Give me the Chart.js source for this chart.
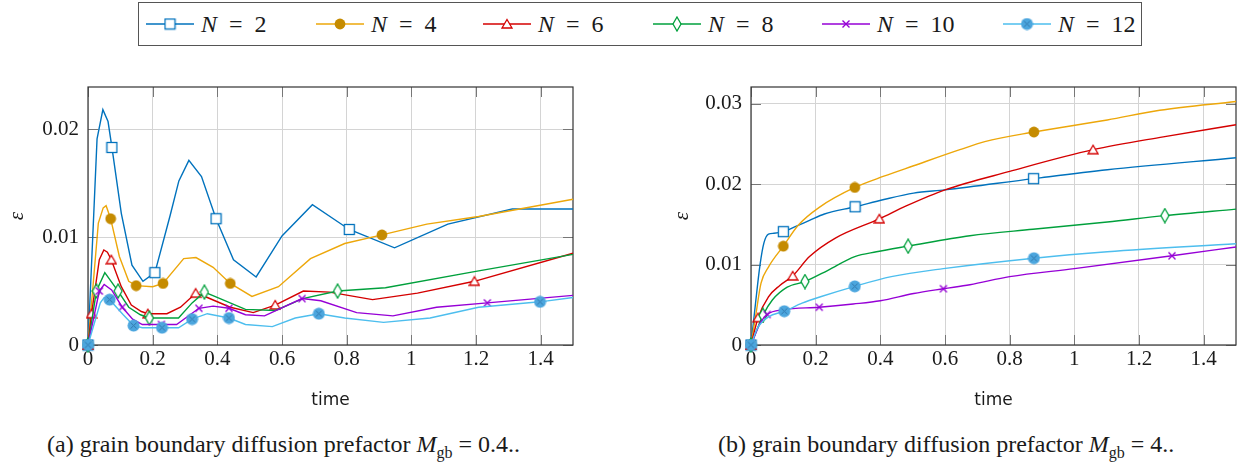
<!DOCTYPE html>
<html lang="en">
<head>
<meta charset="UTF-8">
<title>Strain over time for different N</title>
<script src="https://cdn.jsdelivr.net/npm/chart.js"></script>
<style>
  body { margin: 0; width: 1245px; height: 466px; background: #fff; position: relative; overflow: hidden;
         font-family: "Liberation Serif", serif; color: #1a1a1a; }
  #legend { position: absolute; left: 138px; top: 2px; width: 1004px; height: 44px;
            border: 1.5px solid #555; box-sizing: border-box; }
  .entry { position: absolute; top: 0; height: 100%; display: flex; align-items: center;
           font-size: 24px; white-space: nowrap; }
  .entry canvas { margin-right: 7px; }
  .box { position: absolute; top: 60px; height: 360px; }
  .caption { position: absolute; top: 431px; font-size: 24px; white-space: nowrap; }
  .caption .sub { font-size: 16px; position: relative; top: 6px; }
</style>
</head>
<body>
<div id="legend"></div>
<div class="box" style="left:0;width:620px"><canvas id="chartA"></canvas></div>
<div class="box" style="left:665px;width:580px"><canvas id="chartB"></canvas></div>
<div class="caption" style="left:47px">(a) grain boundary diffusion prefactor <i>M</i><span class="sub">gb</span> = 0.4..</div>
<div class="caption" style="left:718px">(b) grain boundary diffusion prefactor <i>M</i><span class="sub">gb</span> = 4..</div>

<script>
// number of grains per series
const seriesN = [2, 4, 6, 8, 10, 12];
const xTicks = [0, 0.2, 0.4, 0.6, 0.8, 1, 1.2, 1.4];
const yTicksA = [0, 0.01, 0.02];
const yTicksB = [0, 0.01, 0.02, 0.03];

// (a) M_gb = 0.4  -- [time, eps]
const a2 = [[0,0],[0.028,0.0191],[0.046,0.0218],[0.062,0.0207],[0.074,0.0183],[0.103,0.0122],[0.136,0.0074],[0.170,0.0059],[0.207,0.0067],[0.254,0.0120],[0.281,0.0152],[0.312,0.0171],[0.351,0.0156],[0.396,0.0117],[0.45,0.0079],[0.52,0.0063],[0.60,0.0101],[0.694,0.0130],[0.808,0.0107],[0.948,0.0090],[1.113,0.0112],[1.312,0.0126],[1.5,0.0126]];
const a4 = [[0,0],[0.032,0.0113],[0.047,0.0127],[0.056,0.0129],[0.070,0.0117],[0.097,0.0082],[0.126,0.0059],[0.149,0.0055],[0.20,0.0054],[0.232,0.0057],[0.296,0.0080],[0.334,0.0081],[0.387,0.0072],[0.44,0.0057],[0.507,0.0045],[0.589,0.0054],[0.688,0.0080],[0.794,0.0094],[0.909,0.0102],[1.048,0.0112],[1.208,0.0119],[1.5,0.0135]];
const a6 = [[0,0],[0.011,0.0029],[0.035,0.0079],[0.049,0.0088],[0.060,0.0086],[0.072,0.0079],[0.103,0.0054],[0.134,0.0037],[0.165,0.0031],[0.185,0.0029],[0.244,0.0029],[0.286,0.0035],[0.333,0.0048],[0.369,0.0044],[0.44,0.0035],[0.511,0.0030],[0.579,0.0037],[0.666,0.0050],[0.747,0.0049],[0.88,0.0042],[1.019,0.0048],[1.195,0.0059],[1.5,0.0085]];
const a8 = [[0,0],[0.026,0.0050],[0.052,0.0067],[0.093,0.0050],[0.126,0.0035],[0.162,0.0028],[0.19,0.0025],[0.28,0.0025],[0.322,0.0039],[0.36,0.0049],[0.392,0.0045],[0.487,0.0033],[0.58,0.0032],[0.664,0.0043],[0.772,0.0050],[0.92,0.0053],[1.195,0.0068],[1.5,0.0084]];
const a10 = [[0,0],[0.035,0.0050],[0.05,0.0056],[0.073,0.0051],[0.106,0.0035],[0.138,0.0024],[0.168,0.0019],[0.227,0.0019],[0.274,0.0019],[0.343,0.0034],[0.387,0.0036],[0.436,0.0034],[0.487,0.0028],[0.546,0.0027],[0.662,0.0043],[0.72,0.0041],[0.831,0.0030],[0.943,0.0027],[1.078,0.0035],[1.235,0.0039],[1.5,0.0046]];
const a12 = [[0,0],[0.038,0.0039],[0.05,0.0044],[0.067,0.0042],[0.109,0.0028],[0.141,0.0018],[0.168,0.0016],[0.229,0.0016],[0.28,0.0016],[0.322,0.0024],[0.369,0.0029],[0.436,0.0025],[0.487,0.0019],[0.57,0.0017],[0.641,0.0025],[0.714,0.0029],[0.794,0.0025],[0.914,0.0021],[1.058,0.0025],[1.208,0.0035],[1.398,0.0040],[1.5,0.0044]];
// indices that carry a marker
const a2Marks = [0, 4, 8, 13, 18];
const a4Marks = [0, 4, 7, 9, 13, 18];
const a6Marks = [0, 1, 5, 9, 12, 16, 21];
const a8Marks = [0, 1, 3, 6, 9, 14];
const a10Marks = [0, 1, 4, 7, 9, 11, 14, 19];
const a12Marks = [0, 3, 5, 7, 9, 11, 15, 20];

// (b) M_gb = 4
const b2 = [[0,0],[0.014,0.0052],[0.028,0.0100],[0.04,0.0127],[0.054,0.0138],[0.071,0.0139],[0.10,0.0141],[0.135,0.0147],[0.181,0.0155],[0.227,0.0163],[0.322,0.0172],[0.411,0.0181],[0.503,0.0189],[0.60,0.0193],[0.874,0.0207],[1.102,0.0218],[1.5,0.0233]];
const b4 = [[0,0],[0.014,0.0035],[0.031,0.0077],[0.054,0.0097],[0.10,0.0123],[0.146,0.0149],[0.21,0.0171],[0.321,0.0196],[0.411,0.0210],[0.503,0.0223],[0.646,0.0243],[0.723,0.0253],[0.875,0.0265],[1.102,0.0280],[1.264,0.0292],[1.5,0.0303]];
const b6 = [[0,0],[0.022,0.0034],[0.054,0.0060],[0.089,0.0074],[0.129,0.0086],[0.181,0.0110],[0.261,0.0133],[0.397,0.0157],[0.48,0.0173],[0.60,0.0193],[0.80,0.0216],[1.058,0.0243],[1.275,0.0259],[1.5,0.0274]];
const b8 = [[0,0],[0.037,0.0037],[0.066,0.0056],[0.112,0.0072],[0.167,0.0079],[0.238,0.0093],[0.321,0.0110],[0.388,0.0116],[0.486,0.0123],[0.677,0.0136],[0.872,0.0144],[1.102,0.0153],[1.28,0.0161],[1.5,0.0169]];
const b10 = [[0,0],[0.031,0.0029],[0.05,0.0038],[0.1,0.0044],[0.211,0.0047],[0.316,0.0051],[0.40,0.0055],[0.503,0.0064],[0.595,0.0070],[0.677,0.0075],[0.8,0.0085],[1.0,0.0095],[1.302,0.0111],[1.5,0.0122]];
const b12 = [[0,0],[0.02,0.0021],[0.054,0.0035],[0.103,0.0042],[0.158,0.0052],[0.215,0.0060],[0.321,0.0073],[0.434,0.0085],[0.595,0.0095],[0.875,0.0108],[1.102,0.0116],[1.5,0.0126]];
const b2Marks = [0, 6, 10, 14];
const b4Marks = [0, 4, 7, 12];
const b6Marks = [0, 1, 4, 7, 11];
const b8Marks = [0, 1, 4, 8, 12];
const b10Marks = [0, 2, 4, 8, 12];
const b12Marks = [0, 3, 6, 9];

const lineColors = ['#0072bd', '#eda70a', '#d40000', '#00a03c', '#9600d6', '#4dbeee'];

Chart.defaults.font.family = "'Liberation Serif', serif";

// small canvases used as point styles (pgfplots-like marks)
function mark(kind, color) {
  const c = document.createElement('canvas');
  // size first: resizing a canvas resets its context state
  if (kind === 'square' || kind === 'otimes') { c.width = c.height = 13; }
  else if (kind === 'diamond') { c.width = 10; c.height = 16; }
  else if (kind === 'x') { c.width = c.height = 10; }
  else { c.width = c.height = 12; }
  const g = c.getContext('2d');
  g.lineWidth = 1.3;
  g.strokeStyle = color;
  g.fillStyle = '#fff';
  if (kind === 'square') {
    g.fillRect(1.5, 1.5, 10, 10);
    g.strokeRect(1.5, 1.5, 10, 10);
  } else if (kind === 'dot') {
    g.fillStyle = '#c58b00';
    g.beginPath(); g.arc(6, 6, 5.4, 0, Math.PI * 2); g.fill();
  } else if (kind === 'triangle') {
    g.beginPath(); g.moveTo(6, 1.5); g.lineTo(11, 10); g.lineTo(1, 10); g.closePath();
    g.fill(); g.stroke();
  } else if (kind === 'diamond') {
    g.beginPath(); g.moveTo(5, 1); g.lineTo(9, 8); g.lineTo(5, 15); g.lineTo(1, 8); g.closePath();
    g.fill(); g.stroke();
  } else if (kind === 'x') {
    g.lineWidth = 1.4;
    g.beginPath(); g.moveTo(1.5, 1.5); g.lineTo(8.5, 8.5); g.moveTo(8.5, 1.5); g.lineTo(1.5, 8.5); g.stroke();
  } else if (kind === 'otimes') {
    g.fillStyle = '#4ca6de';
    g.beginPath(); g.arc(6.5, 6.5, 6, 0, Math.PI * 2); g.fill();
    g.strokeStyle = '#3278ad'; g.lineWidth = 1;
    g.beginPath(); g.moveTo(3.5, 3.5); g.lineTo(9.5, 9.5); g.moveTo(9.5, 3.5); g.lineTo(3.5, 9.5); g.stroke();
  }
  return c;
}
const marks = [
  mark('square', lineColors[0]), mark('dot', lineColors[1]), mark('triangle', lineColors[2]),
  mark('diamond', lineColors[3]), mark('x', lineColors[4]), mark('otimes', lineColors[5])
];

// legend across the top
const legend = document.getElementById('legend');
const legendLeft = [7, 177, 344, 514, 683, 864];
seriesN.forEach((n, i) => {
  const e = document.createElement('div');
  e.className = 'entry';
  e.style.left = legendLeft[i] + 'px';
  const c = document.createElement('canvas');
  c.width = 48; c.height = 22;
  const g = c.getContext('2d');
  g.strokeStyle = lineColors[i]; g.lineWidth = 1.4;
  g.beginPath(); g.moveTo(0, 11); g.lineTo(48, 11); g.stroke();
  g.drawImage(marks[i], 24 - marks[i].width / 2, 11 - marks[i].height / 2);
  e.appendChild(c);
  const t = document.createElement('span');
  t.innerHTML = '<i>N</i>\u2002=\u2002' + n;
  e.appendChild(t);
  legend.appendChild(e);
});

// frame + inward tick marks like pgfplots
const framePlugin = {
  id: 'frame',
  beforeDatasetsDraw(chart) {
    const { ctx, chartArea: a, scales } = chart;
    ctx.save();
    ctx.strokeStyle = '#777'; ctx.lineWidth = 1;
    ctx.beginPath();
    scales.x.ticks.forEach(t => {
      const x = Math.round(scales.x.getPixelForValue(t.value)) + 0.5;
      ctx.moveTo(x, a.top); ctx.lineTo(x, a.top + 10);
      ctx.moveTo(x, a.bottom); ctx.lineTo(x, a.bottom - 10);
    });
    scales.y.ticks.forEach(t => {
      const y = Math.round(scales.y.getPixelForValue(t.value)) + 0.5;
      ctx.moveTo(a.left, y); ctx.lineTo(a.left + 10, y);
      ctx.moveTo(a.right, y); ctx.lineTo(a.right - 10, y);
    });
    ctx.stroke();
    ctx.strokeStyle = '#333'; ctx.lineWidth = 1.2;
    ctx.strokeRect(a.left, a.top, a.right - a.left, a.bottom - a.top);
    ctx.restore();
  }
};

function datasets(series, markLists, smooth) {
  return seriesN.map((n, i) => ({
    label: 'N = ' + n,
    data: series[i].map(p => ({ x: p[0], y: p[1] })),
    borderColor: lineColors[i],
    borderWidth: 1.4,
    pointStyle: marks[i],
    pointRadius: ctx => markLists[i].includes(ctx.dataIndex) ? 5 : 0,
    tension: 0,
    cubicInterpolationMode: smooth ? 'monotone' : 'default',
    clip: false,
    order: 6 - i
  }));
}

const tickFont = { family: "'Liberation Serif', serif", size: 21 };

function makeChart(id, series, markLists, yTicks, yMax, yWidth, padRight, smooth) {
  new Chart(document.getElementById(id), {
    type: 'line',
    data: { datasets: datasets(series, markLists, smooth) },
    options: {
      responsive: true,
      maintainAspectRatio: false,
      animation: false,
      events: [],
      layout: { padding: { top: 27, right: padRight, left: 0, bottom: 0 } },
      plugins: { legend: { display: false }, tooltip: { enabled: false } },
      scales: {
        x: {
          type: 'linear', min: 0, max: 1.5,
          afterBuildTicks: s => { s.ticks = xTicks.map(v => ({ value: v })); },
          afterFit: s => { s.height = 75; },
          ticks: { font: tickFont, color: '#1a1a1a', padding: 2, maxRotation: 0, callback: v => String(v) },
          grid: { color: '#d4d4d4', lineWidth: 1, drawTicks: false },
          border: { display: false },
          title: { display: true, text: 'time', color: '#1a1a1a',
                   font: { family: "'DejaVu Sans', sans-serif", size: 17 }, padding: { top: 0, bottom: 9 } }
        },
        y: {
          type: 'linear', min: 0, max: yMax,
          afterBuildTicks: s => { s.ticks = yTicks.map(v => ({ value: v })); },
          afterFit: s => { s.width = yWidth; },
          ticks: { font: tickFont, color: '#1a1a1a', padding: 9, callback: v => String(v) },
          grid: { color: '#d4d4d4', lineWidth: 1, drawTicks: false },
          border: { display: false },
          title: { display: true, text: 'ε', color: '#1a1a1a',
                   font: { family: "'Liberation Serif', serif", size: 21, style: 'italic' }, padding: { top: 5, bottom: 0 } }
        }
      }
    },
    plugins: [framePlugin]
  });
}

makeChart('chartA', [a2, a4, a6, a8, a10, a12], [a2Marks, a4Marks, a6Marks, a8Marks, a10Marks, a12Marks],
          yTicksA, 0.0239, 88, 47, false);
makeChart('chartB', [b2, b4, b6, b8, b10, b12], [b2Marks, b4Marks, b6Marks, b8Marks, b10Marks, b12Marks],
          yTicksB, 0.0321, 86, 9, true);
</script>
</body>
</html>
